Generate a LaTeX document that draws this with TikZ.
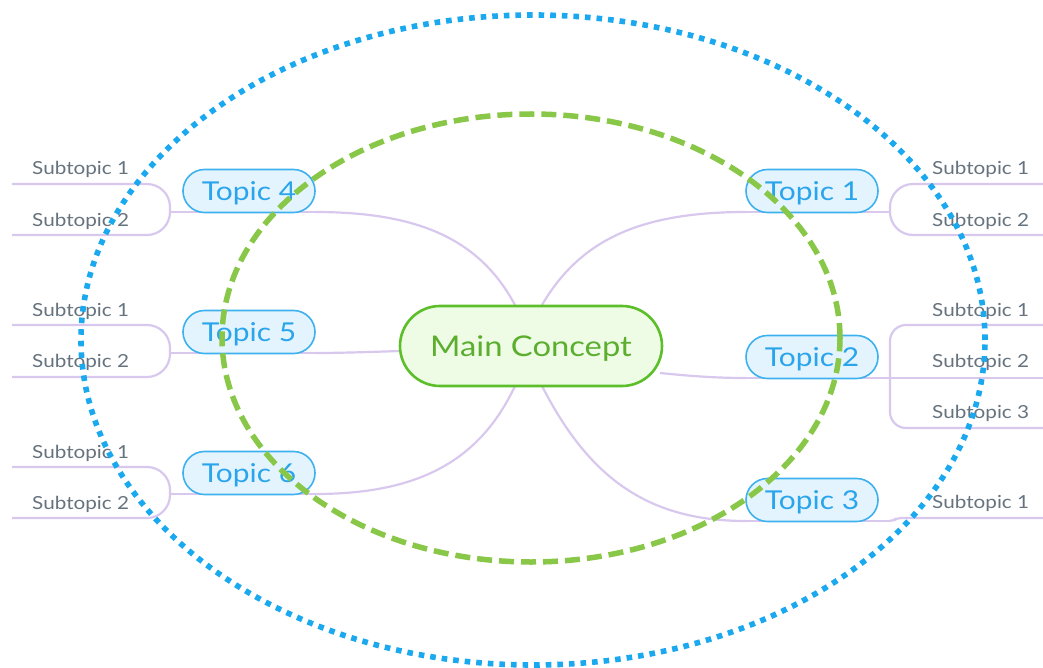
\documentclass[tikz,border=0pt]{standalone}
\usepackage{fontspec}
\setmainfont{Lato}[FakeStretch=1.15]
\usetikzlibrary{shapes.misc,calc}
\definecolor{lav}{HTML}{D9C8EE}
\definecolor{tblue}{HTML}{3DB0EE}
\definecolor{tfill}{HTML}{E3F4FE}
\definecolor{ttext}{HTML}{2AA5EC}
\definecolor{mgreen}{HTML}{5CBF2A}
\definecolor{mfill}{HTML}{EEFCE6}
\definecolor{mtext}{HTML}{5BAE2E}
\definecolor{sgray}{HTML}{66737E}
\definecolor{dotblue}{HTML}{1AA8EE}
\definecolor{dashgreen}{HTML}{88C747}
\begin{document}
\begin{tikzpicture}[x=1pt,y=-1pt,
  conn/.style={draw=lav, line width=2.2pt},
  topic/.style={rounded rectangle, draw=tblue, fill=tfill, line width=1.6pt,
    minimum width=132pt, minimum height=43pt, text=ttext,
    font=\fontsize{26}{26}\selectfont, inner sep=0pt, text height=18.5pt, text depth=0pt},
  mainc/.style={rounded rectangle, draw=mgreen, fill=mfill, line width=2.6pt,
    minimum width=262pt, minimum height=80pt, text=mtext,
    font=\fontsize{28.5}{28.5}\selectfont, inner sep=0pt, text height=20.5pt, text depth=0pt},
  sub/.style={text=sgray, font=\fontsize{18}{18}\selectfont, inner sep=0pt, anchor=base west},
  outerring/.style={draw=dotblue, line width=5.6pt, dash pattern=on 5.6pt off 6pt},
  innerring/.style={draw=dashgreen, line width=5.5pt, dash pattern=on 15pt off 7pt}]
\useasboundingbox (0,0) rectangle (1043,668);

% branch points and line ends
\coordinate (f1) at (890,212);
\coordinate (f2) at (890,378);
\coordinate (f3) at (890,521);
\coordinate (f4) at (170,212);
\coordinate (f5) at (170,353);
\coordinate (f6) at (170,494);

% main -> topic connectors
\draw[conn] (515,305) .. controls (480,240) and (420,212) .. (315,212);
\draw[conn] (542,305) .. controls (580,240) and (640,212) .. (746,212);
\draw[conn] (400,351) .. controls (370,352) and (340,353) .. (315,353);
\draw[conn] (660,373) .. controls (690,376) and (715,378) .. (746,378);
\draw[conn] (515,386) .. controls (480,460) and (420,494) .. (315,494);
\draw[conn] (542,386) .. controls (590,480) and (650,521) .. (746,521);

% lines under topics and to branch points
\draw[conn] (f4) -- (315,212);
\draw[conn] (f5) -- (315,353);
\draw[conn] (f6) -- (315,494);
\draw[conn] (746,212) -- (f1);
\draw[conn] (746,378) -- (f2);
\draw[conn] (746,521) -- (f3);

% right branches
\draw[conn, rounded corners=23pt] (1043,184) -- (890,184) -- (890,235) -- (1043,235);
\draw[conn, rounded corners=16pt] (1043,325) -- (890,325) -- (890,428) -- (1043,428);
\draw[conn] (f2) -- (1043,378);
\draw[conn, rounded corners=4pt] (f3) -- (893,521) -- (897,518) -- (1043,518);

% left branches
\draw[conn, rounded corners=23pt] (12,184) -- (170,184) -- (170,235) -- (12,235);
\draw[conn, rounded corners=23pt] (12,325) -- (170,325) -- (170,377) -- (12,377);
\draw[conn, rounded corners=23pt] (12,467) -- (170,467) -- (170,518) -- (12,518);

% nodes
\node[mainc] (mc) at (531,346) {Main Concept};
\node[topic] (t1) at (812,191) {Topic 1};
\node[topic] (t2) at (812,357) {Topic 2};
\node[topic] (t3) at (812,500) {Topic 3};
\node[topic] (t4) at (249,191) {Topic 4};
\node[topic] (t5) at (249,332) {Topic 5};
\node[topic] (t6) at (249,473) {Topic 6};

% subtopic labels
\node[sub] (s11) at (932,175) {Subtopic 1};
\node[sub] (s12) at (932,226) {Subtopic 2};
\node[sub] (s21) at (932,316) {Subtopic 1};
\node[sub] (s22) at (932,367) {Subtopic 2};
\node[sub] (s23) at (932,418) {Subtopic 3};
\node[sub] (s31) at (932,508) {Subtopic 1};
\node[sub] (s41) at (32,175) {Subtopic 1};
\node[sub] (s42) at (32,226) {Subtopic 2};
\node[sub] (s51) at (32,316) {Subtopic 1};
\node[sub] (s52) at (32,367) {Subtopic 2};
\node[sub] (s61) at (32,458) {Subtopic 1};
\node[sub] (s62) at (32,509) {Subtopic 2};

% rings
\draw[innerring] (531,338) ellipse [x radius=309pt, y radius=224pt];
\draw[outerring] (533,340) ellipse [x radius=452pt, y radius=325pt];
\end{tikzpicture}
\end{document}
